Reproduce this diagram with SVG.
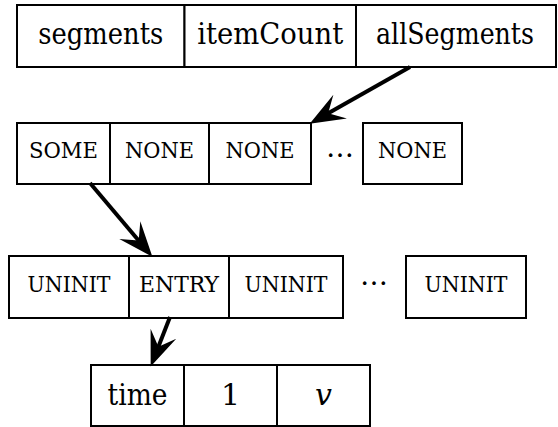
<svg xmlns="http://www.w3.org/2000/svg" width="558" height="427" viewBox="0 0 558 427">
  <style>
    .cell { fill: #fff; stroke: #000; stroke-width: 2; }
    text { text-anchor: middle; fill: #000; }
    .big { font-size: 30px; }
    .sc { font-size: 23px; }
    .dots { font-size: 28px; }
    .link { fill: none; stroke: #000; stroke-width: 4; }
  </style>
  <defs>
    <!-- stealth-style head; the line stops inside the notch -->
    <marker id="head" markerUnits="userSpaceOnUse" markerWidth="40" markerHeight="30" viewBox="-14 -12 30 24" refX="0" refY="0" orient="auto" overflow="visible">
      <path d="M15,0 L-13,-11 L-2,0 L-13,11 Z" fill="#000"/>
    </marker>
  </defs>

  <g font-family="DejaVu Serif, serif">
  <!-- top record -->
  <g id="record">
    <g id="segments"><rect class="cell" x="17" y="5" width="167.5" height="62"/><text class="big" x="100.75" y="44" textLength="125" lengthAdjust="spacingAndGlyphs">segments</text></g>
    <g id="itemCount"><rect class="cell" x="184.5" y="5" width="171.5" height="62"/><text class="big" x="270.25" y="44" textLength="146" lengthAdjust="spacingAndGlyphs">itemCount</text></g>
    <g id="allSegments"><rect class="cell" x="356" y="5" width="200" height="62"/><text class="big" x="455" y="44" textLength="158" lengthAdjust="spacingAndGlyphs">allSegments</text></g>
  </g>

  <!-- segment table -->
  <g id="segmentTable">
    <g id="seg0"><rect class="cell" x="17" y="123" width="93" height="61"/><text class="sc" x="63.5" y="158" textLength="69" lengthAdjust="spacingAndGlyphs">SOME</text></g>
    <g id="seg1"><rect class="cell" x="110" y="123" width="99" height="61"/><text class="sc" x="159.5" y="158" textLength="69" lengthAdjust="spacingAndGlyphs">NONE</text></g>
    <g id="seg2"><rect class="cell" x="209" y="123" width="102" height="61"/><text class="sc" x="260" y="158" textLength="69" lengthAdjust="spacingAndGlyphs">NONE</text></g>
    <text class="dots" x="340" y="157">…</text>
    <g id="segN"><rect class="cell" x="363" y="123" width="99" height="61"/><text class="sc" x="412.5" y="158" textLength="69" lengthAdjust="spacingAndGlyphs">NONE</text></g>
  </g>

  <!-- slot array -->
  <g id="slots">
    <g id="slot0"><rect class="cell" x="9" y="256" width="120" height="62"/><text class="sc" x="69" y="292" textLength="83" lengthAdjust="spacingAndGlyphs">UNINIT</text></g>
    <g id="slot1"><rect class="cell" x="129" y="256" width="100" height="62"/><text class="sc" x="179" y="292" textLength="80" lengthAdjust="spacingAndGlyphs">ENTRY</text></g>
    <g id="slot2"><rect class="cell" x="229" y="256" width="114" height="62"/><text class="sc" x="286" y="292" textLength="83" lengthAdjust="spacingAndGlyphs">UNINIT</text></g>
    <text class="dots" x="374" y="285">…</text>
    <g id="slotN"><rect class="cell" x="406" y="256" width="120" height="62"/><text class="sc" x="466" y="292" textLength="83" lengthAdjust="spacingAndGlyphs">UNINIT</text></g>
  </g>

  <!-- entry -->
  <g id="entry">
    <g id="time"><rect class="cell" x="91" y="365" width="93" height="61"/><text class="big" x="137.5" y="405" textLength="60" lengthAdjust="spacingAndGlyphs">time</text></g>
    <g id="count"><rect class="cell" x="184" y="365" width="93" height="61"/><text class="big" x="230.5" y="405">1</text></g>
    <g id="value"><rect class="cell" x="277" y="365" width="93" height="61"/><text class="big" x="323.5" y="405" font-style="italic">v</text></g>
  </g>
  </g>

  <!-- pointers -->
  <g id="connectors">
    <path class="link" d="M410,67 L326,114.6" marker-end="url(#head)"/>
    <path class="link" d="M90,183 L140.3,242.5" marker-end="url(#head)"/>
    <path class="link" d="M170,317 L157.5,349" marker-end="url(#head)"/>
  </g>
</svg>
